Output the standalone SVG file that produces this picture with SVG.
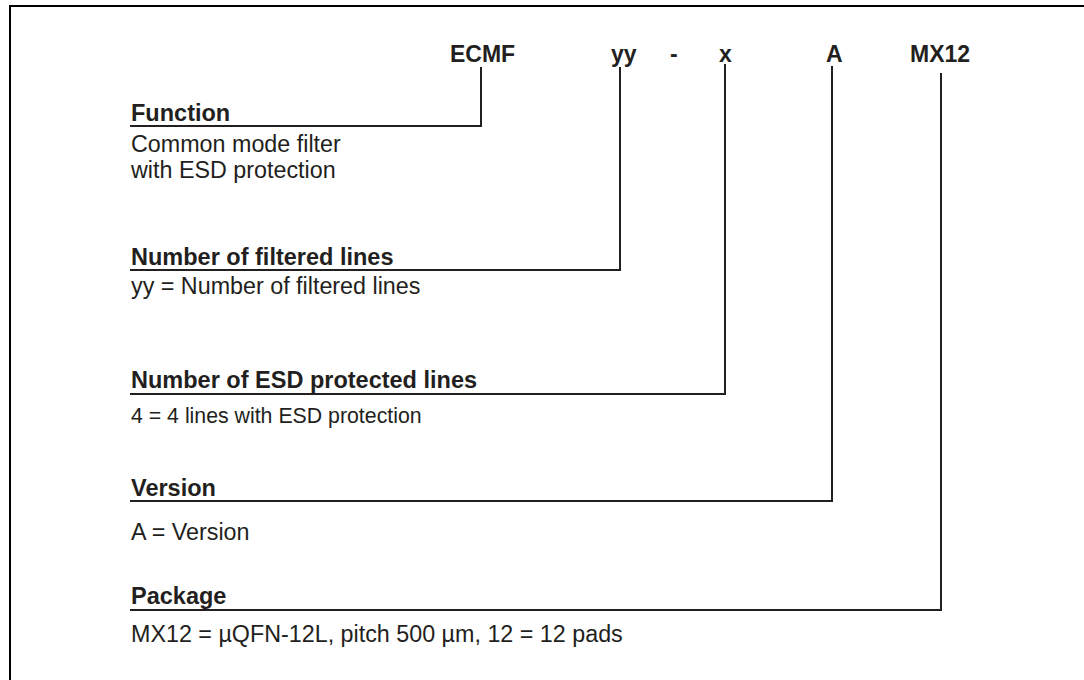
<svg xmlns="http://www.w3.org/2000/svg" width="1084" height="680" viewBox="0 0 1084 680">
<style>
text{font-family:"Liberation Sans",Arial,Helvetica,sans-serif;fill:#231F20}
.code{font-size:23px;font-weight:bold}
.head{font-size:23.5px;font-weight:bold}
.body{font-size:23.3px}
.small{font-size:21.3px}
.conn{fill:none;stroke:#231F20;stroke-width:2;stroke-linejoin:miter}
</style>
<rect width="1084" height="680" fill="#ffffff"/>
<path id="frame" d="M10,690 V6 H1100" fill="none" stroke="#000" stroke-width="2"/>
<g id="code-ecmf"><text class="code" x="450" y="62">ECMF</text></g>
<g id="code-yy"><text class="code" x="611" y="62">yy</text></g>
<g id="code-dash"><text class="code" x="670" y="62">-</text></g>
<g id="code-x"><text class="code" x="719" y="62">x</text></g>
<g id="code-a"><text class="code" x="826" y="62">A</text></g>
<g id="code-mx12"><text class="code" x="910" y="62">MX12</text></g>
<g id="connectors">
<path class="conn" d="M481,67 V126 H130"/>
<path class="conn" d="M620,67 V270 H130"/>
<path class="conn" d="M725,64 V394 H130"/>
<path class="conn" d="M832,66 V501 H130"/>
<path class="conn" d="M941,73 V610 H130"/>
</g>
<g id="field-function">
<text class="head" x="131" y="121">Function</text>
<text class="body" x="131" y="152">Common mode filter</text>
<text class="body" x="131" y="178">with ESD protection</text>
</g>
<g id="field-filtered">
<text class="head" x="131" y="265">Number of filtered lines</text>
<text class="body" x="131" y="294">yy = Number of filtered lines</text>
</g>
<g id="field-esd">
<text class="head" x="131" y="388">Number of ESD protected lines</text>
<text class="small" x="131" y="423">4 = 4 lines with ESD protection</text>
</g>
<g id="field-version">
<text class="head" x="131" y="496">Version</text>
<text class="body" x="131" y="540">A = Version</text>
</g>
<g id="field-package">
<text class="head" x="131" y="604">Package</text>
<text class="body" x="131" y="642">MX12 = µQFN-12L, pitch 500 µm, 12 = 12 pads</text>
</g>
</svg>
